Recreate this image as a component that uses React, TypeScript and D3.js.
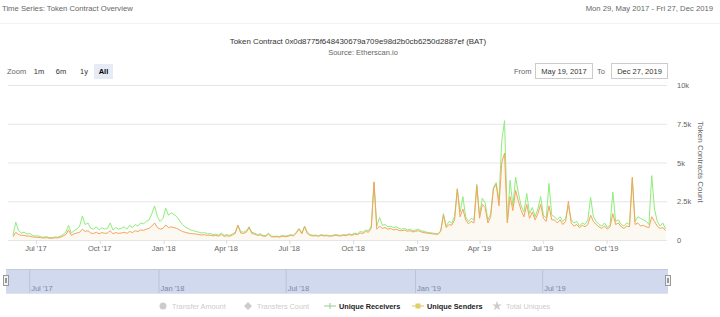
import React from "react";
import * as d3 from "d3";

// ---- DATA (values every 4 days starting 29 May 2017) ----
const START_DATE = new Date(2017, 4, 29);
const END_DATE = new Date(2019, 11, 27);
const STEP_DAYS = 4;

const receiversA = [
  300, 1150, 600, 450, 500, 380, 420, 300, 250, 280,
  200, 180, 220, 160, 150, 200, 180, 250, 350, 500,
  950, 450, 600, 700, 900, 1550, 1000, 1100, 750, 700,
  850, 650, 800, 700, 750, 1100, 650, 800, 700, 750,
  850, 700, 950, 800, 1000, 900, 1100, 1050, 1200, 1300,
  1700, 2200, 1500, 1200, 1400, 2050, 1600, 1750, 1650, 1500,
  1250, 1000, 850, 750, 650, 600, 550, 500, 450, 480,
  400, 420, 350, 380, 320, 450, 300, 350, 300, 400,
];
const receiversB = [
  500, 950, 550, 500, 600, 850, 500, 450, 350, 400,
  300, 280, 450, 250, 230, 250, 220, 300, 250, 280,
  350, 300, 500, 750, 450, 900, 500, 350, 300, 320,
  280, 350, 300, 320, 280, 300, 350, 320, 300, 350,
  320, 400, 350, 450, 400, 550, 500, 650, 600, 900,
  3700, 900, 1450, 950, 1000, 850, 900, 800, 850, 750,
  700, 750, 650, 700, 600, 650, 700, 600, 550, 500,
  480, 450, 420, 400, 600, 1700, 900, 1200, 1100, 1500,
];
const receiversC = [
  3300, 1800, 2800, 1500, 1200, 1400, 1300, 3600, 1600, 2700,
  2400, 1300, 1700, 3400, 3700, 2600, 6400, 7700, 1200, 3850,
  2200, 4050, 3000, 2200, 1800, 3000, 1700, 2100, 1500, 2000,
  2800, 1600, 1400, 3650, 1600, 1500, 1300, 1500, 1200, 1400,
  2200, 1300, 1100, 1200, 900, 1100, 1000, 1300, 2750, 1500,
  1200, 1000, 900, 1100, 800, 1000, 3100, 1200, 1300, 1000,
  900, 1100, 1000, 3900, 1200, 1500, 1400, 1300, 1200, 1000,
  4150, 2000, 1200, 900, 1100, 700,
];

const sendersA = [
  200, 500, 350, 300, 300, 250, 250, 200, 180, 170,
  150, 130, 150, 120, 110, 140, 130, 180, 250, 350,
  650, 300, 400, 450, 500, 700, 550, 600, 450, 420,
  500, 400, 480, 430, 450, 600, 400, 480, 430, 450,
  500, 430, 550, 480, 600, 550, 650, 620, 700, 750,
  900, 1100, 800, 700, 750, 970, 800, 850, 800, 750,
  650, 550, 500, 450, 420, 400, 380, 350, 320, 340,
  300, 310, 270, 290, 250, 350, 240, 270, 240, 320,
];
const sendersB = [
  420, 950, 450, 420, 500, 800, 420, 380, 300, 330,
  250, 240, 380, 210, 200, 210, 190, 250, 210, 240,
  300, 260, 450, 700, 400, 850, 420, 300, 260, 280,
  240, 300, 260, 280, 240, 260, 300, 280, 260, 300,
  280, 350, 300, 380, 350, 450, 420, 550, 500, 750,
  3750, 700, 900, 750, 800, 700, 750, 650, 700, 620,
  600, 640, 560, 600, 520, 560, 600, 520, 480, 440,
  420, 400, 380, 360, 550, 1600, 800, 1000, 950, 1300,
];
const sendersC = [
  3300, 1500, 2000, 1300, 1050, 1200, 1100, 3500, 1400, 2300,
  2100, 1100, 1500, 3300, 3600, 2200, 5000, 5600, 1100, 2800,
  1900, 3200, 2500, 1900, 1500, 2300, 1400, 1800, 1300, 1700,
  2300, 1400, 1200, 2200, 1300, 1300, 1100, 1300, 1000, 1200,
  2500, 1100, 900, 1000, 800, 950, 850, 1000, 1600, 1200,
  1000, 850, 750, 900, 700, 850, 1700, 1000, 1100, 850,
  750, 900, 850, 4050, 1000, 1100, 900, 950, 850, 800,
  1500, 1200, 900, 750, 800, 600,
];

const yTicks = [0, 2500, 5000, 7500, 10000];
const yTickLabels = ["0", "2.5k", "5k", "7.5k", "10k"];
const zoomButtons = ["1m", "6m", "1y", "All"];
const legendItems = [
  { name: "Transfer Amount", symbol: "circle", active: false },
  { name: "Transfers Count", symbol: "diamond", active: false },
  { name: "Unique Receivers", symbol: "line", active: true },
  { name: "Unique Senders", symbol: "square", active: true },
  { name: "Total Uniques", symbol: "star", active: false },
];

const GREEN = "#90ed7d";
const ORANGE = "#f7a35c";
const FONT = "'Liberation Sans', Arial, Helvetica, sans-serif";

type Pt = { d: Date; v: number };

export default function App() {
  const receivers = [...receiversA, ...receiversB, ...receiversC];
  const senders = [...sendersA, ...sendersB, ...sendersC];
  const toPts = (arr: number[]): Pt[] =>
    arr.map((v, i) => ({ d: d3.timeDay.offset(START_DATE, i * STEP_DAYS), v }));
  const recPts = toPts(receivers);
  const sendPts = toPts(senders);

  const x = d3.scaleTime().domain([START_DATE, END_DATE]).range([13, 667]);
  const y = d3.scaleLinear().domain([0, 10000]).range([240, 85]);
  const xNav = d3.scaleTime().domain([START_DATE, END_DATE]).range([6, 668]);

  const line = d3
    .line<Pt>()
    .x((p) => x(p.d))
    .y((p) => y(p.v));
  const area = d3
    .area<Pt>()
    .x((p) => x(p.d))
    .y0(y(0))
    .y1((p) => y(p.v));

  const xTicks = x.ticks(d3.timeMonth.every(3)!);
  const fmt = d3.timeFormat("%b '%y");
  const navTicks = xNav.ticks(d3.timeMonth.every(6)!);

  const legendX = [159, 244, 326, 414, 493];

  return (
    <svg
      width={720}
      height={317}
      style={{ position: "absolute", left: 0, top: 0, background: "#fff" }}
      fontFamily={FONT}
    >
      {/* header */}
      <text x={2} y={11} fontSize={7.7} fill="#666">
        Time Series: Token Contract Overview
      </text>
      <text x={713} y={11} fontSize={7.7} fill="#666" textAnchor="end">
        Mon 29, May 2017 - Fri 27, Dec 2019
      </text>
      <line x1={0} x2={720} y1={23.5} y2={23.5} stroke="#f2f2f2" />

      {/* title */}
      <text x={358} y={44} fontSize={7.9} fill="#333" textAnchor="middle">
        Token Contract 0x0d8775f648430679a709e98d2b0cb6250d2887ef (BAT)
      </text>
      <text x={363} y={55} fontSize={7.5} fill="#666" textAnchor="middle">
        Source: Etherscan.io
      </text>

      {/* range selector */}
      <text x={7} y={74} fontSize={7.5} fill="#666">
        Zoom
      </text>
      {zoomButtons.map((b, i) => {
        const bx = [31, 53, 76, 94][i];
        const active = b === "All";
        return (
          <g key={b}>
            {active && <rect x={bx} y={64} width={19} height={15} fill="#e6ebf5" />}
            <text
              x={bx + (i === 3 ? 9.5 : 8)}
              y={74}
              fontSize={7.5}
              textAnchor="middle"
              fill={active ? "#000" : "#333"}
              fontWeight={active ? "bold" : "normal"}
            >
              {b}
            </text>
          </g>
        );
      })}
      <text x={514} y={74} fontSize={7.5} fill="#666">
        From
      </text>
      <rect x={535.5} y={63.5} width={57} height={15} fill="#fff" stroke="#ccc" />
      <text x={564} y={74} fontSize={7.5} fill="#333" textAnchor="middle">
        May 19, 2017
      </text>
      <text x={597} y={74} fontSize={7.5} fill="#666">
        To
      </text>
      <rect x={611.5} y={63.5} width={56} height={15} fill="#fff" stroke="#ccc" />
      <text x={639.5} y={74} fontSize={7.5} fill="#333" textAnchor="middle">
        Dec 27, 2019
      </text>

      {/* gridlines */}
      {yTicks.map((t, i) => (
        <g key={t}>
          <line x1={8} x2={667} y1={y(t) + 0.5} y2={y(t) + 0.5} stroke="#e6e6e6" />
          <text x={677} y={y(t) + 3} fontSize={7.5} fill="#666">
            {yTickLabels[i]}
          </text>
        </g>
      ))}
      <text
        transform={`translate(698,162) rotate(90)`}
        fontSize={8}
        fill="#666"
        textAnchor="middle"
      >
        Token Contracts Count
      </text>

      {/* x axis */}
      {xTicks.map((t) => (
        <g key={+t}>
          <line x1={x(t) + 0.5} x2={x(t) + 0.5} y1={240} y2={244} stroke="#ddd" />
          <text x={x(t)} y={251} fontSize={7.5} fill="#666" textAnchor="middle">
            {fmt(t)}
          </text>
        </g>
      ))}

      {/* series */}
      <path d={area(recPts)!} fill={GREEN} fillOpacity={0.04} />
      <path d={area(sendPts)!} fill={ORANGE} fillOpacity={0.05} />
      <path d={line(recPts)!} fill="none" stroke={GREEN} strokeWidth={1} />
      <path d={line(sendPts)!} fill="none" stroke={ORANGE} strokeWidth={1} />

      {/* navigator */}
      <rect x={6} y={269} width={662} height={24} fill="#d0d9ed" />
      <line x1={6} x2={668} y1={269.5} y2={269.5} stroke="#c4c9d4" />
      <line x1={6} x2={668} y1={293.5} y2={293.5} stroke="#dfe3ec" />
      {navTicks.map((t) => (
        <g key={+t}>
          <line
            x1={xNav(t) + 0.5}
            x2={xNav(t) + 0.5}
            y1={270}
            y2={293}
            stroke="#b9c3da"
          />
          <text x={xNav(t) + 2} y={291} fontSize={7.5} fill="#7b89a8">
            {fmt(t)}
          </text>
        </g>
      ))}
      {[6, 668].map((hx) => (
        <g key={hx}>
          <rect x={hx - 2.5} y={275.5} width={5} height={10} fill="#f2f2f2" stroke="#999" />
          <line x1={hx - 0.5} x2={hx - 0.5} y1={278} y2={283} stroke="#999" />
          <line x1={hx + 0.5} x2={hx + 0.5} y1={278} y2={283} stroke="#999" />
        </g>
      ))}

      {/* legend */}
      {legendItems.map((it, i) => {
        const lx = legendX[i];
        const col = it.active ? "#222" : "#ccc";
        const ly = 309;
        let sym: React.ReactNode = null;
        if (it.symbol === "circle") sym = <circle cx={lx + 4} cy={ly - 3} r={3.5} fill="#ccc" />;
        if (it.symbol === "diamond")
          sym = (
            <path
              d={`M${lx + 4},${ly - 7} L${lx + 8},${ly - 3} L${lx + 4},${ly + 1} L${lx},${ly - 3}Z`}
              fill="#ccc"
            />
          );
        if (it.symbol === "line")
          sym = (
            <g>
              <line x1={lx - 2} x2={lx + 10} y1={ly - 3} y2={ly - 3} stroke="#9acb94" strokeWidth={1} />
              <path d={`M${lx + 4},${ly - 6} L${lx + 4},${ly}`} stroke="#9acb94" />
            </g>
          );
        if (it.symbol === "square")
          sym = (
            <g>
              <line x1={lx - 2} x2={lx + 10} y1={ly - 3} y2={ly - 3} stroke="#d8c66a" strokeWidth={1} />
              <rect x={lx + 1.5} y={ly - 5.5} width={5} height={5} fill="#e3cf6a" />
            </g>
          );
        if (it.symbol === "star") {
          const star = d3.symbol(d3.symbolStar, 30)();
          sym = <path d={star!} transform={`translate(${lx + 4},${ly - 3})`} fill="#ccc" />;
        }
        return (
          <g key={it.name}>
            {sym}
            <text
              x={lx + 13}
              y={ly}
              fontSize={7.3}
              fill={col}
              fontWeight={it.active ? "bold" : "normal"}
            >
              {it.name}
            </text>
          </g>
        );
      })}
    </svg>
  );
}
